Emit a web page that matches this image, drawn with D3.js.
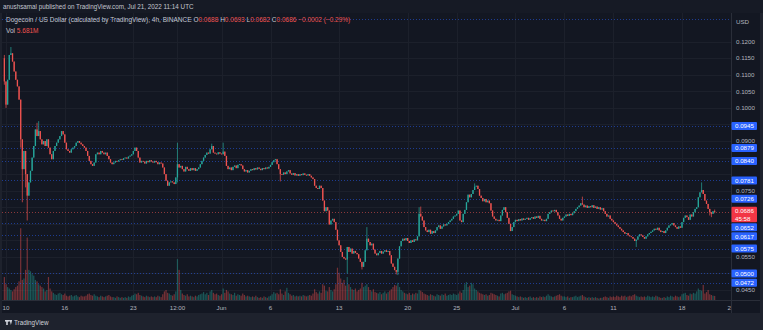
<!DOCTYPE html>
<html><head><meta charset="utf-8">
<script src="https://cdn.jsdelivr.net/npm/d3@7"></script>
<style>
body{margin:0;background:#1e222d;overflow:hidden;}
svg{display:block;font-family:"Liberation Sans",Arial,sans-serif;}
</style>
</head><body><svg id="c" width="763" height="330"></svg>
<script>
// ---------- DATA ----------
const firstCandle = "2022-05-09T20:00:00Z";   // 4h candles
const firstOpen = 0.1150;
const closes = [
0.1080,
0.1010,0.1085,0.1160,0.1165,0.1140,0.1110,
0.1085,0.1065,0.1025,0.0905,0.0815,0.0870,
0.0800,0.0735,0.0775,0.0810,0.0850,0.0885,
0.0935,0.0915,0.0930,0.0905,0.0890,0.0900,
0.0885,0.0905,0.0880,0.0860,0.0845,0.0870,
0.0885,0.0895,0.0905,0.0915,0.0930,0.0920,
0.0895,0.0875,0.0870,0.0865,0.0875,0.0880,
0.0885,0.0895,0.0900,0.0895,0.0890,0.0885,
0.0880,0.0870,0.0855,0.0840,0.0830,0.0825,
0.0835,0.0860,0.0865,0.0860,0.0870,0.0865,
0.0860,0.0865,0.0855,0.0845,0.0835,0.0830,
0.0835,0.0840,0.0838,0.0842,0.0845,0.0843,
0.0848,0.0850,0.0847,0.0853,0.0856,0.0860,
0.0870,0.0880,0.0870,0.0850,0.0835,0.0840,
0.0838,0.0832,0.0840,0.0836,0.0842,0.0838,
0.0835,0.0840,0.0836,0.0830,0.0835,0.0832,
0.0820,0.0800,0.0780,0.0765,0.0775,0.0778,
0.0775,0.0770,0.0790,0.0830,0.0820,0.0825,
0.0815,0.0808,0.0822,0.0815,0.0810,0.0818,
0.0812,0.0818,0.0810,0.0815,0.0820,0.0830,
0.0840,0.0850,0.0858,0.0865,0.0862,0.0875,
0.0885,0.0865,0.0862,0.0860,0.0866,0.0862,
0.0860,0.0868,0.0855,0.0825,0.0815,0.0820,
0.0812,0.0822,0.0826,0.0818,0.0828,0.0830,
0.0826,0.0815,0.0808,0.0812,0.0805,0.0810,
0.0815,0.0812,0.0818,0.0814,0.0820,0.0816,
0.0812,0.0818,0.0815,0.0820,0.0817,0.0822,
0.0828,0.0836,0.0842,0.0845,0.0830,0.0815,
0.0800,0.0798,0.0805,0.0800,0.0808,0.0812,
0.0802,0.0798,0.0803,0.0796,0.0800,0.0795,
0.0800,0.0797,0.0802,0.0798,0.0796,0.0800,
0.0795,0.0790,0.0785,0.0765,0.0758,0.0755,
0.0765,0.0758,0.0720,0.0688,0.0700,0.0690,
0.0648,0.0660,0.0665,0.0655,0.0632,0.0600,
0.0585,0.0565,0.0550,0.0545,0.0542,0.0580,
0.0565,0.0575,0.0560,0.0568,0.0562,0.0558,
0.0545,0.0535,0.0520,0.0535,0.0570,0.0605,
0.0595,0.0585,0.0590,0.0572,0.0560,0.0555,
0.0562,0.0568,0.0560,0.0566,0.0570,0.0565,
0.0568,0.0555,0.0530,0.0520,0.0510,0.0505,
0.0545,0.0582,0.0598,0.0605,0.0600,0.0607,
0.0598,0.0592,0.0600,0.0595,0.0603,0.0600,
0.0612,0.0680,0.0672,0.0660,0.0640,0.0630,
0.0625,0.0632,0.0620,0.0628,0.0622,0.0630,
0.0640,0.0645,0.0635,0.0642,0.0648,0.0645,
0.0650,0.0655,0.0660,0.0665,0.0672,0.0675,
0.0680,0.0690,0.0660,0.0655,0.0680,0.0692,
0.0715,0.0738,0.0730,0.0740,0.0752,0.0762,
0.0765,0.0755,0.0735,0.0728,0.0718,0.0725,
0.0715,0.0720,0.0712,0.0690,0.0672,0.0665,
0.0660,0.0662,0.0658,0.0675,0.0692,0.0700,
0.0685,0.0668,0.0650,0.0628,0.0640,0.0655,
0.0662,0.0658,0.0664,0.0660,0.0666,0.0662,
0.0665,0.0668,0.0662,0.0667,0.0670,0.0665,
0.0672,0.0668,0.0674,0.0665,0.0660,0.0662,
0.0658,0.0665,0.0680,0.0685,0.0690,0.0688,
0.0692,0.0685,0.0675,0.0665,0.0660,0.0668,
0.0672,0.0678,0.0674,0.0680,0.0676,0.0682,
0.0688,0.0695,0.0700,0.0705,0.0712,0.0708,
0.0700,0.0705,0.0698,0.0703,0.0700,0.0706,
0.0698,0.0702,0.0695,0.0700,0.0693,0.0697,
0.0688,0.0680,0.0672,0.0675,0.0665,0.0660,
0.0655,0.0650,0.0645,0.0640,0.0635,0.0630,
0.0625,0.0620,0.0622,0.0615,0.0612,0.0610,
0.0605,0.0598,0.0602,0.0612,0.0618,0.0615,
0.0610,0.0605,0.0612,0.0618,0.0622,0.0626,
0.0630,0.0635,0.0632,0.0638,0.0630,0.0625,
0.0628,0.0622,0.0630,0.0638,0.0645,0.0648,
0.0652,0.0645,0.0640,0.0635,0.0642,0.0638,
0.0655,0.0668,0.0675,0.0670,0.0662,0.0678,
0.0672,0.0685,0.0695,0.0700,0.0730,0.0745,
0.0752,0.0740,0.0720,0.0710,0.0695,0.0685,
0.0680,0.0688,0.0686
];
// notable wicks: [candle index, price]
const wickHighs = [[0,0.1160],[4,0.1184],[20,0.0955],[21,0.0960],[106,0.0895],[127,0.0892],[134,0.0895],
  [222,0.0640],[254,0.0700],[255,0.0702],[288,0.0772],[354,0.0732],[427,0.0775],[435,0.0693]];
const wickLows = [[0,0.1070],[1,0.1000],[10,0.0880],[11,0.0715],[13,0.0760],[14,0.0660],[106,0.0775],
  [169,0.0778],[210,0.0500],[219,0.0512],[240,0.0497],[241,0.0495],[387,0.0580],[432,0.0675],[433,0.0670],[435,0.0682]];
// volume, millions
const volumes = [
32,
22,18,16,14,12,15,
18,20,26,100,28,30,
42,87,42,40,36,34,
28,26,22,20,18,16,
12,14,32,16,12,10,
8,7,9,10,8,7,
9,6,5,6,7,5,
6,7,5,4,6,5,
5,6,8,9,7,6,
8,6,5,4,6,5,
4,5,6,7,5,4,
4,3,5,4,3,4,
3,4,3,5,4,6,
7,9,8,10,7,6,
5,4,6,5,4,5,
4,5,4,6,5,4,
8,12,14,10,9,7,
6,8,12,57,42,14,
9,7,6,8,5,6,
5,4,6,5,7,8,
9,11,8,10,7,12,
14,10,8,9,7,6,
8,16,10,14,12,9,
8,7,10,6,8,7,
6,9,7,5,6,5,
4,5,4,6,4,3,
4,3,5,4,3,5,
6,8,11,9,10,8,
15,9,7,12,17,10,
8,6,7,5,6,5,
6,5,7,6,5,6,
7,6,9,15,11,9,
12,10,22,20,13,12,
18,14,12,15,22,45,
38,30,24,28,20,32,
22,18,15,14,16,12,
14,16,24,18,20,22,
18,14,12,15,11,10,
9,11,8,10,12,9,
11,13,15,18,21,20,
24,18,14,12,10,9,
8,10,7,9,8,10,
9,14,13,11,9,8,
7,6,8,7,6,5,
8,7,6,8,7,9,
6,7,8,7,9,8,
7,9,12,10,14,22,
25,18,20,24,22,16,
14,12,10,9,8,7,
8,6,7,10,9,8,
7,6,5,9,10,8,
9,10,12,13,8,7,
6,5,4,5,4,3,
4,3,4,5,3,4,
3,4,3,5,4,5,
4,6,8,6,5,4,
5,6,7,8,6,5,
5,4,5,3,4,4,
5,6,4,5,6,7,
5,4,3,4,3,4,
3,4,3,2,3,3,
4,5,4,3,5,4,
5,4,6,5,4,6,
5,6,4,5,6,5,
7,8,6,5,4,5,
4,5,4,6,5,4,
5,4,6,5,4,3,
3,4,3,5,4,6,
5,4,6,5,4,5,
8,9,10,7,6,9,
8,10,9,12,16,14,
13,21,9,11,14,8,
7,6,5.681
];
const priceTicks = [0.045,0.050,0.055,0.060,0.065,0.070,0.075,0.080,0.085,0.090,0.095,0.100,0.105,0.110,0.115,0.120];
const levelLines = [0.0945,0.0879,0.0840,0.0781,0.0726,0.0652,0.0617,0.0575,0.0500,0.0472];
const topLine = 0.1268;
const lastPrice = 0.0686;
const countdown = "45:58";
const timeTickDates = ["2022-05-10T00:00Z","2022-05-16T00:00Z","2022-05-23T00:00Z","2022-05-27T12:00Z","2022-06-01T00:00Z",
  "2022-06-06T00:00Z","2022-06-13T00:00Z","2022-06-20T00:00Z","2022-06-25T00:00Z","2022-07-01T00:00Z","2022-07-06T00:00Z",
  "2022-07-11T00:00Z","2022-07-18T00:00Z","2022-07-23T00:00Z"];
const timeTickLabels = ["10","16","23","12:00","Jun","6","13","20","25","Jul","6","11","18","23"];
const headerText = "anushsamal published on TradingView.com, Jul 21, 2022 11:14 UTC";
const titleText = "Dogecoin / US Dollar (calculated by TradingView), 4h, BINANCE";
const ohlcLabels = [["O","0.0688"],["H","0.0693"],["L","0.0682"],["C","0.0686"]];
const changeText = "\u22120.0002 (\u22120.29%)";
const volText = "5.681M";

// ---------- LAYOUT ----------
const W = 763, H = 330;
const paneL = 2, paneR = 731, paneT = 13, paneB = 300;
const UP = "#26a69a", DOWN = "#ef5350";

const svg = d3.select("#c");
svg.append("rect").attr("width",W).attr("height",H).attr("fill","#1e222d");
svg.append("rect").attr("x",0).attr("y",0).attr("width",W).attr("height",paneT).attr("fill","#161a25");
svg.append("rect").attr("x",paneL).attr("y",paneT).attr("width",760-paneL).attr("height",313-paneT).attr("fill","#131722");

const x = d3.scaleUtc()
  .domain([new Date("2022-05-10T00:00Z"), new Date("2022-07-18T00:00Z")])
  .range([6, 682]);
const y = d3.scaleLinear().domain([0.12, 0.045]).range([41.7, 290.0]);
const yv = d3.scaleLinear().domain([0, 400]).range([paneB, paneT]);

svg.append("defs").append("clipPath").attr("id","pane")
  .append("rect").attr("x",paneL).attr("y",paneT).attr("width",paneR-paneL).attr("height",paneB-paneT);
const pane = svg.append("g").attr("clip-path","url(#pane)");

// grid
const tDates = timeTickDates.map(d=>new Date(d));
pane.selectAll("line.vg").data(tDates).join("line")
  .attr("x1",d=>Math.round(x(d))+0.5).attr("x2",d=>Math.round(x(d))+0.5)
  .attr("y1",paneT).attr("y2",paneB).attr("stroke","#1c202b").attr("stroke-width",1);
pane.selectAll("line.hg").data(priceTicks).join("line")
  .attr("x1",paneL).attr("x2",paneR)
  .attr("y1",d=>Math.round(y(d))+0.5).attr("y2",d=>Math.round(y(d))+0.5)
  .attr("stroke","#1c202b").attr("stroke-width",1);

// candles data
const t0 = new Date(firstCandle).getTime();
const hiMap = new Map(wickHighs), loMap = new Map(wickLows);
const candles = closes.map((c,i)=>{
  const o = i===0 ? firstOpen : closes[i-1];
  const h = Math.max(o,c, hiMap.has(i)?hiMap.get(i):0);
  const l = Math.min(o,c, loMap.has(i)?loMap.get(i):1);
  return {t:new Date(t0 + i*4*3600e3), o, h, l, c, v:volumes[i]};
});

// volume
pane.selectAll("rect.vol").data(candles).join("rect")
  .attr("x",d=>x(d.t)-0.6).attr("width",1.2)
  .attr("y",d=>yv(d.v)).attr("height",d=>paneB-yv(d.v))
  .attr("fill",d=>d.c>=d.o?UP:DOWN).attr("opacity",0.45);

// level lines
pane.selectAll("line.lvl").data(levelLines.concat([topLine])).join("line")
  .attr("x1",paneL).attr("x2",paneR)
  .attr("y1",d=>Math.round(y(d))+0.5).attr("y2",d=>Math.round(y(d))+0.5)
  .attr("stroke","#2962ff").attr("stroke-opacity",0.5).attr("stroke-width",1).attr("stroke-dasharray","1,2");
pane.append("line").attr("x1",paneL).attr("x2",paneR)
  .attr("y1",Math.round(y(lastPrice))+0.5).attr("y2",Math.round(y(lastPrice))+0.5)
  .attr("stroke",DOWN).attr("stroke-opacity",0.55).attr("stroke-dasharray","1,2");

// candles
pane.selectAll("line.wick").data(candles).join("line")
  .attr("x1",d=>x(d.t)).attr("x2",d=>x(d.t))
  .attr("y1",d=>y(d.h)).attr("y2",d=>y(d.l))
  .attr("stroke",d=>d.c>=d.o?UP:DOWN).attr("stroke-width",0.7);
pane.selectAll("rect.body").data(candles).join("rect")
  .attr("x",d=>x(d.t)-0.65).attr("width",1.3)
  .attr("y",d=>y(Math.max(d.o,d.c)))
  .attr("height",d=>Math.max(0.8, Math.abs(y(d.o)-y(d.c))))
  .attr("fill",d=>d.c>=d.o?UP:DOWN);

// separators
svg.append("line").attr("x1",paneR+0.5).attr("x2",paneR+0.5).attr("y1",paneT).attr("y2",313).attr("stroke","#2a2e39");
svg.append("line").attr("x1",paneL).attr("x2",760).attr("y1",paneB+0.5).attr("y2",paneB+0.5).attr("stroke","#2a2e39");

// price boxes (with simple overlap avoidance)
const boxes = levelLines.map(v=>({v, h:8, color:"#2962ff", lines:[d3.format(".4f")(v)], off:4}));
boxes.push({v:lastPrice, h:15.5, color:"#f23645", lines:[d3.format(".4f")(lastPrice), countdown], off:5});
boxes.forEach(b=>{b.top = y(b.v)-b.off;});
boxes.sort((a,b)=>a.top-b.top);
for(let i=1;i<boxes.length;i++){
  const prevB = boxes[i-1].top + boxes[i-1].h + 1;
  if(boxes[i].top < prevB) boxes[i].top = prevB;
}

// price axis (tick labels hidden where a price box covers them)
const ax = svg.append("g").attr("font-size","6.2px").attr("fill","#b2b5be");
ax.append("text").attr("x",736).attr("y",22).attr("dy","0.35em").text("USD");
const visibleTicks = priceTicks.filter(v=>{
  const t = y(v)-3, b = y(v)+3;
  return !boxes.some(bx=> t < bx.top+bx.h-0.5 && b > bx.top+0.5);
});
ax.selectAll("text.pt").data(visibleTicks).join("text")
  .attr("x",736).attr("y",d=>y(d)).attr("dy","0.35em").text(d=>d3.format(".4f")(d));

const bg = svg.append("g").attr("font-size","6.2px");
boxes.forEach(b=>{
  bg.append("rect").attr("x",731.5).attr("y",b.top).attr("width",25.5).attr("height",b.h)
    .attr("rx",1).attr("fill",b.color);
  b.lines.forEach((s,k)=>{
    bg.append("text").attr("x",735).attr("y",b.top+4+k*7.5).attr("dy","0.35em")
      .attr("fill","#ffffff").text(s);
  });
});

// time axis
svg.append("defs").append("clipPath").attr("id","taxis")
  .append("rect").attr("x",paneL).attr("y",paneB).attr("width",paneR-paneL).attr("height",13);
svg.append("g").attr("clip-path","url(#taxis)").attr("font-size","6.2px").attr("fill","#b2b5be")
  .selectAll("text").data(tDates).join("text")
  .attr("x",d=>x(d)).attr("y",307.5).attr("dy","0.35em").attr("text-anchor","middle")
  .text((d,i)=>timeTickLabels[i]);

// header
svg.append("text").attr("x",3).attr("y",7).attr("dy","0.35em").attr("font-size","6.3px")
  .attr("fill","#c3c6ce").text(headerText);
const tl = svg.append("text").attr("x",6).attr("y",19.5).attr("dy","0.35em").attr("font-size","6.5px").attr("fill","#c3c6ce");
tl.append("tspan").text(titleText + " ");
ohlcLabels.forEach(([k,v])=>{
  tl.append("tspan").attr("fill","#c3c6ce").text(" "+k);
  tl.append("tspan").attr("fill",DOWN).text(v);
});
tl.append("tspan").attr("fill",DOWN).text(" "+changeText);
const vl = svg.append("text").attr("x",6).attr("y",30.5).attr("dy","0.35em").attr("font-size","6.5px").attr("fill","#c3c6ce");
vl.append("tspan").text("Vol  ");
vl.append("tspan").attr("fill",DOWN).text(volText);

// footer logo
const lg = svg.append("g").attr("transform","translate(5,320)").attr("fill","#d1d4dc");
lg.append("rect").attr("x",0).attr("y",0).attr("width",4).attr("height",1.6);
lg.append("rect").attr("x",1.2).attr("y",0).attr("width",1.6).attr("height",5);
lg.append("path").attr("d","M4.6,0 L7.2,0 L5.9,5 Z");
lg.append("circle").attr("cx",4.6).attr("cy",0.8).attr("r",0.8);
svg.append("text").attr("x",14).attr("y",322.5).attr("dy","0.35em").attr("font-size","6.3px")
  .attr("fill","#d1d4dc").text("TradingView");
</script>
</body></html>
